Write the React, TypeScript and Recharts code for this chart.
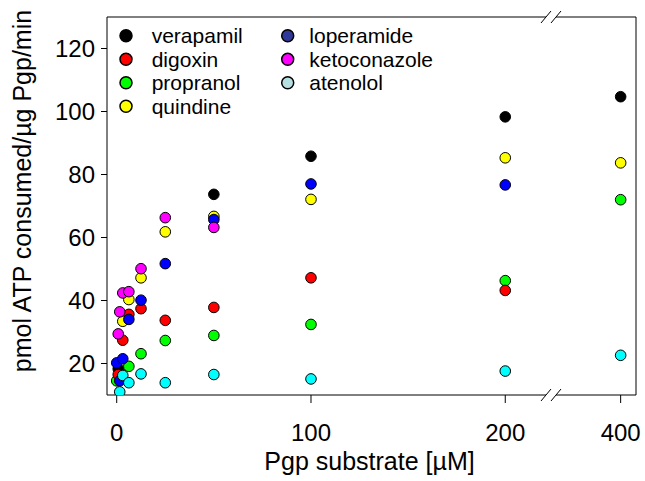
import React from "react";
import { ScatterChart, Scatter, XAxis, YAxis } from "recharts";

const FONT = "'Liberation Sans', Arial, sans-serif";

// series names, colors (points) and legend swatch colors
const seriesNames = ["verapamil", "digoxin", "propranol", "quindine", "loperamide", "ketoconazole", "atenolol"];
const pointColors = ["#000000", "#ff0000", "#00ff00", "#ffff00", "#0000ff", "#ff00ff", "#00ffff"];
const legendColors = ["#000000", "#ff0000", "#00ff00", "#ffff00", "#30389a", "#ff00ff", "#b6dfe2"];

// concentrations (µM) and ATPase activity values per substrate
const verapamilConc = [0.78, 50, 100, 200, 400];
const verapamilVals = [18.3, 73.7, 85.8, 98.3, 104.7];
const digoxinConc = [0.78, 3.125, 6.25, 12.5, 25, 50, 100, 200];
const digoxinVals = [16.5, 27.4, 35.6, 37.4, 33.7, 37.8, 47.2, 43.2];
const propranolConc = [0, 6.25, 12.5, 25, 50, 100, 200, 400];
const propranolVals = [14.5, 19.1, 23.1, 27.3, 28.9, 32.4, 46.3, 72.0];
const quindineConc = [3.125, 6.25, 12.5, 25, 50, 100, 200, 400];
const quindineVals = [33.4, 40.3, 47.2, 61.8, 66.7, 72.1, 85.3, 83.7];
const loperamideConc = [0, 1.56, 3.125, 6.25, 12.5, 25, 50, 100, 200];
const loperamideVals = [20.2, 14.5, 21.5, 34.0, 40.1, 51.7, 65.7, 77.0, 76.7];
const ketoconazoleConc = [0.78, 1.56, 3.125, 6.25, 12.5, 25, 50];
const ketoconazoleVals = [29.4, 36.4, 42.4, 42.8, 50.1, 66.3, 63.2];
const atenololConc = [1.56, 3.125, 6.25, 12.5, 25, 50, 100, 200, 400];
const atenololVals = [11.0, 16.2, 13.9, 16.7, 13.9, 16.5, 15.1, 17.6, 22.6];

const xTickValues = [0, 100, 200, 400];
const yTickValues = [20, 40, 60, 80, 100, 120];

// broken axis: above 200 the axis is compressed
const BREAK_AT = 200;
const COMPRESS = 0.297;
const toAxis = (v: number) => (v <= BREAK_AT ? v : BREAK_AT + (v - BREAK_AT) * COMPRESS);

const build = (conc: number[], vals: number[]) =>
  conc.map((c, i) => ({ x: toAxis(c), y: vals[i], conc: c }));

const seriesData = [
  build(verapamilConc, verapamilVals),
  build(digoxinConc, digoxinVals),
  build(propranolConc, propranolVals),
  build(quindineConc, quindineVals),
  build(loperamideConc, loperamideVals),
  build(ketoconazoleConc, ketoconazoleVals),
  build(atenololConc, atenololVals),
];

// drawing order (back to front)
const drawOrder = [0, 2, 1, 3, 4, 5, 6];

const dot = (color: string) => (props: any) => (
  <circle cx={props.cx} cy={props.cy} r={5.3} fill={color} stroke="#000" strokeWidth={1} />
);

const LegendBlock = () => {
  const col1 = [0, 1, 2, 3];
  const col2 = [4, 5, 6];
  const rowH = 23.5;
  const y0 = 35.7;
  return (
    <g>
      {col1.map((s, i) => (
        <g key={s}>
          <circle cx={126} cy={y0 + i * rowH} r={6} fill={legendColors[s]} stroke="#000" strokeWidth={1.5} />
          <text x={151.7} y={y0 + i * rowH + 7.5} fontSize={21} fontFamily={FONT} fill="#000">
            {seriesNames[s]}
          </text>
        </g>
      ))}
      {col2.map((s, i) => (
        <g key={s}>
          <circle cx={287.7} cy={y0 + i * rowH} r={6} fill={legendColors[s]} stroke="#000" strokeWidth={1.5} />
          <text x={309.3} y={y0 + i * rowH + 7.5} fontSize={21} fontFamily={FONT} fill="#000">
            {seriesNames[s]}
          </text>
        </g>
      ))}
    </g>
  );
};

export default function App() {
  const L = 107, R = 636, T = 17, B = 395;
  const gap1 = 546, gap2 = 556;
  return (
    <div style={{ position: "absolute", left: 0, top: 0, width: 645, height: 481, background: "#fff" }}>
      <ScatterChart width={645} height={481} margin={{ top: 17, right: 9, bottom: 46, left: 47 }}>
        <XAxis
          type="number"
          dataKey="x"
          domain={[-5, 267.3]}
          ticks={xTickValues.map(toAxis)}
          tickFormatter={(v: number) => String(xTickValues[xTickValues.map(toAxis).indexOf(v)] ?? v)}
          allowDataOverflow
          height={40}
          tickSize={8}
          tickMargin={21}
          axisLine={{ stroke: "#000", strokeWidth: 1 }}
          tickLine={{ stroke: "#000", strokeWidth: 1 }}
          tick={{ fontSize: 24, fill: "#000", fontFamily: FONT }}
        />
        <YAxis
          type="number"
          dataKey="y"
          domain={[10, 130]}
          ticks={yTickValues}
          allowDataOverflow
          width={60}
          tickSize={6}
          tickMargin={6}
          axisLine={{ stroke: "#000", strokeWidth: 1 }}
          tickLine={{ stroke: "#000", strokeWidth: 1 }}
          tick={{ fontSize: 24, fill: "#000", fontFamily: FONT }}
        />
        {drawOrder.map((s) => (
          <Scatter
            key={seriesNames[s]}
            name={seriesNames[s]}
            data={seriesData[s]}
            fill={pointColors[s]}
            shape={dot(pointColors[s])}
            isAnimationActive={false}
          />
        ))}
      </ScatterChart>
      <svg
        width={645}
        height={481}
        style={{ position: "absolute", left: 0, top: 0, pointerEvents: "none" }}
      >
        {/* frame top and right */}
        <line x1={L} y1={T} x2={gap1} y2={T} stroke="#000" strokeWidth={1} />
        <line x1={gap2} y1={T} x2={R} y2={T} stroke="#000" strokeWidth={1} />
        <line x1={R} y1={T} x2={R} y2={B} stroke="#000" strokeWidth={1} />
        {/* bottom break gap */}
        <rect x={gap1} y={B - 2} width={gap2 - gap1} height={4} fill="#fff" />
        {[T, B].map((yy) => (
          <g key={yy}>
            <line x1={gap1 - 5} y1={yy + 6} x2={gap1 + 5} y2={yy - 6} stroke="#000" strokeWidth={1} />
            <line x1={gap2 - 5} y1={yy + 6} x2={gap2 + 5} y2={yy - 6} stroke="#000" strokeWidth={1} />
          </g>
        ))}
        <LegendBlock />
        {/* axis titles */}
        <text x={369.5} y={470} textAnchor="middle" fontSize={25} fontFamily={FONT} fill="#000">
          Pgp substrate [µM]
        </text>
        <text
          transform="translate(31,191) rotate(-90)"
          textAnchor="middle"
          fontSize={25}
          fontFamily={FONT}
          fill="#000"
        >
          pmol ATP consumed/µg Pgp/min
        </text>
      </svg>
    </div>
  );
}
